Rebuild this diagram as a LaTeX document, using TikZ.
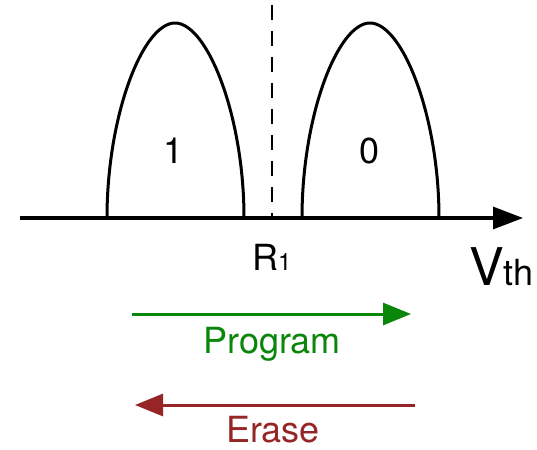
\documentclass[tikz,border=0pt]{standalone}
\usepackage{fontspec}
\setmainfont{TeX Gyre Heros}
\usetikzlibrary{arrows.meta}
\definecolor{proggreen}{RGB}{10,135,10}
\definecolor{erasered}{RGB}{150,38,38}
\begin{document}
\begin{tikzpicture}[x=1pt,y=-1pt,
  curve/.style={line width=3pt, line join=round},
  axisline/.style={line width=3.2pt, -{Triangle[length=30pt,width=22pt]}},
  oparrow/.style={line width=3pt, -{Triangle[length=28pt,width=22pt]}},
  lbl/.style={inner sep=0pt, anchor=base, text depth=0pt, font=\fontsize{36}{36}\selectfont}]
\useasboundingbox (0,0) rectangle (537,449);
% axis
\coordinate (axL) at (20,218);
\coordinate (axR) at (523,218);
\draw[axisline] (axL) -- (axR);
% dashed separator
\coordinate (dT) at (272,5);
\coordinate (dB) at (272,218);
\draw[line width=2.3pt, dash pattern=on 15pt off 11pt] (dT) -- (dB);
% distribution 1
\draw[curve] (107,218) .. controls (107,115) and (143,23) .. (175,23)
  .. controls (207,23) and (244,115) .. (244,218);
% distribution 0
\draw[curve] (302,218) .. controls (302,115) and (338,23) .. (370,23)
  .. controls (402,23) and (439,115) .. (439,218);
\node[lbl] (one) at (174,163) {1};
\node[lbl] (zero) at (370,163) {0};
% labels
\node[inner sep=0pt, anchor=base west, text depth=0pt, font=\fontsize{36}{36}\selectfont] (R1) at (252,270) {R{\fontsize{24}{24}\selectfont 1}};
\node[inner sep=0pt, anchor=base west, text depth=0pt] (Vth) at (469,285) {{\fontsize{52}{52}\selectfont V}{\fontsize{36}{36}\selectfont th}};
% program
\coordinate (pS) at (132,314);
\coordinate (pE) at (411,314);
\draw[oparrow, draw=proggreen, fill=proggreen] (pS) -- (pE);
\node[lbl, text=proggreen] (prog) at (272,353) {Program};
% erase
\coordinate (eS) at (415,405);
\coordinate (eE) at (135,405);
\draw[oparrow, draw=erasered, fill=erasered] (eS) -- (eE);
\node[lbl, text=erasered] (erase) at (273,442) {Erase};
\end{tikzpicture}
\end{document}
